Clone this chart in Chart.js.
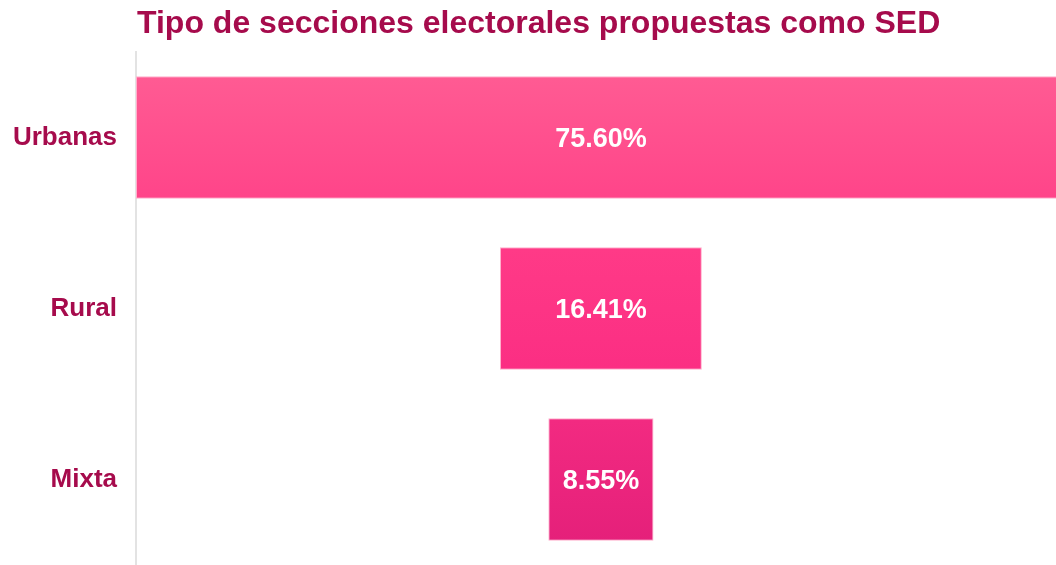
<!DOCTYPE html>
<html>
<head>
<meta charset="utf-8">
<script src="https://cdn.jsdelivr.net/npm/chart.js@4"></script>
<style>
	html, body { margin: 0; padding: 0; background: #fff; overflow: hidden; }
	canvas { display: block; }
</style>
</head>
<body>
<canvas id="chart" width="1056" height="565"></canvas>
<script>
var categories = ['Urbanas', 'Rural', 'Mixta'];
var shares = [75.60, 16.41, 8.55];
var shareLabels = ['75.60%', '16.41%', '8.55%'];
var chartTitle = 'Tipo de secciones electorales propuestas como SED';

var wine = '#a60b4c';

// funnel: every bar centred on half of the widest one
var mid = Math.max.apply(null, shares) / 2;
var funnel = shares.map(function(v) {
	return [mid - v / 2, mid + v / 2];
});

function pinkFill(ctx) {
	var area = ctx.chart.chartArea;
	if (!area) return '#ff3d8a';
	var g = ctx.chart.ctx.createLinearGradient(0, 76, 0, 542);
	g.addColorStop(0, '#ff5b93');
	g.addColorStop(0.27, '#ff4489');
	g.addColorStop(0.37, '#ff3a87');
	g.addColorStop(0.63, '#fb2e83');
	g.addColorStop(0.74, '#f22a81');
	g.addColorStop(1, '#e5207a');
	return g;
}

//title drawn at the left edge of the plot
var titlePlugin = {
	id: 'leftTitle',
	afterDraw: function(chart) {
		var c = chart.ctx;
		c.save();
		c.font = 'bold 32px "Liberation Sans", Arial, sans-serif';
		c.fillStyle = wine;
		c.textBaseline = 'alphabetic';
		c.textAlign = 'left';
		c.fillText(chartTitle, chart.chartArea.left + 1, 33);
		c.restore();
	}
};

//percentages in the middle of each bar
var valuePlugin = {
	id: 'barValues',
	afterDatasetsDraw: function(chart) {
		var c = chart.ctx;
		var meta = chart.getDatasetMeta(0);
		c.save();
		c.font = 'bold 27px "Liberation Sans", Arial, sans-serif';
		c.fillStyle = '#ffffff';
		c.textAlign = 'center';
		c.textBaseline = 'middle';
		meta.data.forEach(function(bar, i) {
			c.fillText(shareLabels[i], (bar.x + bar.base) / 2, bar.y + 2);
		});
		c.restore();
	}
};

new Chart(document.getElementById('chart'), {
	type: 'bar',
	data: {
		labels: categories,
		datasets: [{
			data: funnel,
			backgroundColor: pinkFill,
			borderColor: '#ffb0cc',
			borderWidth: 1,
			borderSkipped: false,
			barPercentage: 0.805,
			categoryPercentage: 0.89
		}]
	},
	options: {
		indexAxis: 'y',
		responsive: false,
		animation: false,
		layout: { padding: { top: 52, right: 0, bottom: 0, left: 0 } },
		plugins: {
			legend: { display: false },
			tooltip: { enabled: false },
			title: { display: false }
		},
		scales: {
			x: {
				display: false,
				min: 0,
				max: 74.8
			},
			y: {
				afterFit: function(scale) {
					scale.width = 136;
					scale.paddingTop = 0;
					scale.paddingBottom = 0;
				},
				grid: { display: false, drawTicks: false },
				border: { display: true, color: '#e3e3e3', width: 2 },
				ticks: {
					padding: 19,
					color: wine,
					font: { family: '"Liberation Sans", Arial, sans-serif', size: 26, weight: 'bold' }
				}
			}
		}
	},
	plugins: [titlePlugin, valuePlugin]
});
</script>
</body>
</html>
